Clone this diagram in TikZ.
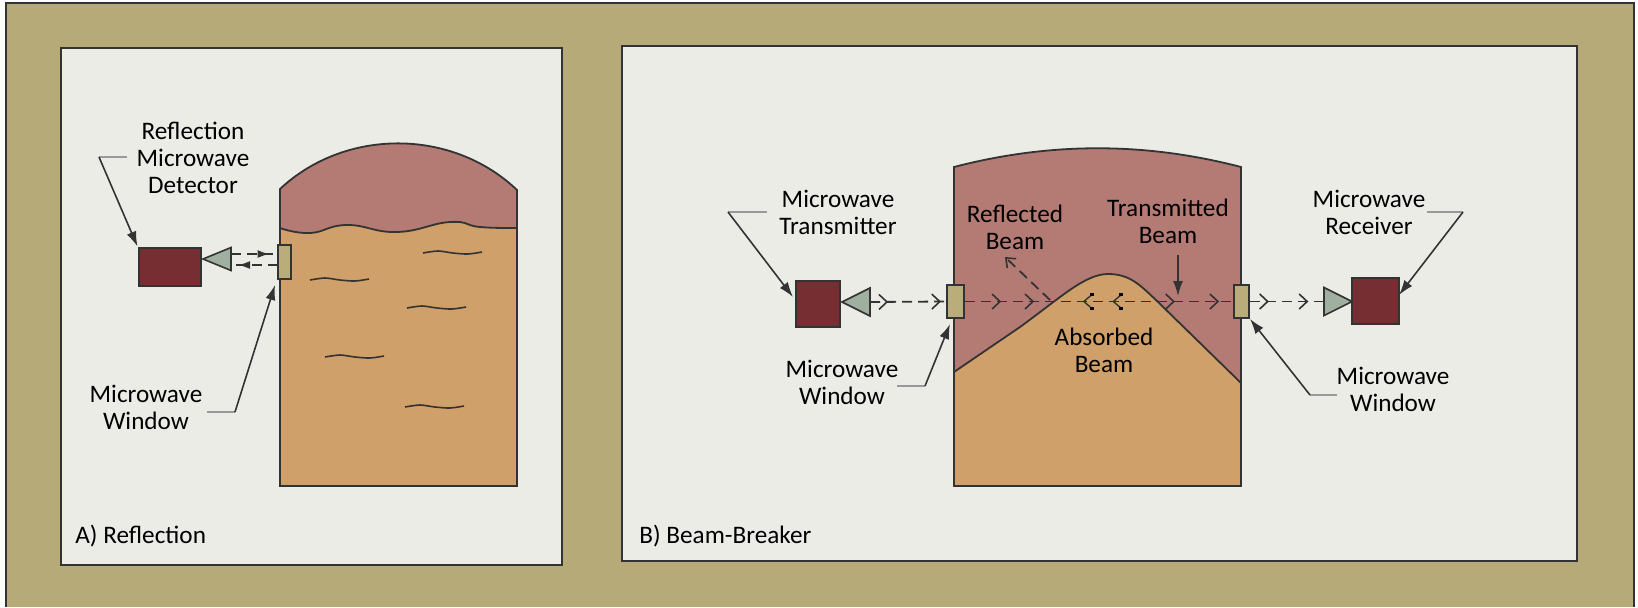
\documentclass[tikz,border=0pt]{standalone}
\usepackage{fontspec}
\setmainfont{Carlito}
\usepackage{tikz}
\usetikzlibrary{shapes.geometric, arrows.meta, decorations.markings}

\definecolor{frameolive}{HTML}{B5AA78}
\definecolor{panelgrey}{HTML}{EBECE6}
\definecolor{gaspink}{HTML}{B47A74}
\definecolor{liquidtan}{HTML}{CFA06A}
\definecolor{boxred}{HTML}{762E32}
\definecolor{conegreen}{HTML}{9FB0A0}
\definecolor{windowtan}{HTML}{B9AE7A}
\definecolor{inkdark}{HTML}{333333}

\begin{document}
\begin{tikzpicture}[
      x=0.5pt,
      y=-0.5pt,
      panel/.style={
          draw=inkdark,
          line width=1pt,
          fill=panelgrey
        },
      tank/.style={
          draw=inkdark,
          line width=0.9pt
        },
      unit/.style={
          rectangle,
          draw=inkdark,
          line width=1pt,
          inner sep=0pt,
          fill=boxred
        },
      cone/.style={
          isosceles triangle,
          isosceles triangle stretches,
          draw=inkdark,
          line width=0.8pt,
          inner sep=0pt,
          outer sep=0pt,
          fill=conegreen,
          minimum height=14pt,
          minimum width=14pt
        },
      port/.style={
          rectangle,
          draw=inkdark,
          line width=1pt,
          inner sep=0pt,
          minimum width=8.5pt,
          minimum height=16.5pt,
          fill=windowtan
        },
      label/.style={
          align=center,
          inner sep=0pt,
          text=black,
          font=\fontsize{12.6}{13.5}\selectfont
        },
      arrow/.style={
          -{Latex[length=7.5pt,width=5pt]},
          draw=inkdark,
          line width=0.8pt
        },
      tail/.style={
          draw=black!40,
          line width=1pt
        },
      beam/.style={
          draw=inkdark,
          line width=0.9pt,
          dash pattern=on 5pt off 3pt
        },
      chev/.style={
          postaction={
              decorate,
              decoration={
                  markings,
                  mark=at position #1 with {\arrow{Straight Barb[length=4pt,width=7.5pt,line width=0.8pt]}}
                }
            }
        },
      blob/.style={
          postaction={
              decorate,
              decoration={
                  markings,
                  mark=at position #1 with {\arrow{Latex[length=6pt,width=4pt]}}
                }
            }
        },
      absorb/.style={
          postaction={
              decorate,
              decoration={
                  markings,
                  mark=at position #1 with {
                      \draw[solid,line width=0.7pt] (2pt,-3.4pt) -- (-2pt,0pt) -- (2pt,3.4pt);
                      \fill (1pt,-4.4pt) rectangle (3pt,-2.6pt);
                      \fill (1pt,2.6pt) rectangle (3pt,4.4pt);
                    }
                }
            }
        }
    ]
    \useasboundingbox (0,0) rectangle (1638,607);

    % Frame and panels
    \fill[frameolive] (6,3) rectangle (1634,607);
    \draw[inkdark, line width=1.1pt] (6,607) -- (6,3) -- (1634,3) -- (1634,607);
    \draw[panel] (61,48) rectangle (562,565);
    \draw[panel] (622,46) rectangle (1577,561);

    % Tank A
    \draw[tank, fill=gaspink] (280,486) -- (280,189) .. controls (345,128) and (452,128) .. (517,190) -- (517,486) -- cycle;
    \draw[tank, fill=liquidtan] plot[smooth, tension=0.8] coordinates {(280,228) (310,233) (347,225) (397,232) (450,222) (480,227) (517,228)} -- (517,486) -- (280,486) -- cycle;
    \foreach \wx/\wy in {423/253, 310/280, 407/308, 325/357, 405/407} {
        \draw[inkdark, line width=0.8pt] plot[smooth] coordinates {(\wx,\wy) (\wx+15,\wy-2) (\wx+30,\wy) (\wx+45,\wy+1) (\wx+59,\wy-1)};
      }

    % Tank B
    \draw[tank, fill=gaspink] (954,486) -- (954,167) .. controls (1050,142) and (1145,142) .. (1241,167) -- (1241,486) -- cycle;
    \draw[tank, fill=liquidtan] (954,372) -- (1020,327) .. controls (1060,298) and (1085,274) .. (1108,274) .. controls (1130,274) and (1140,285) .. (1157,301) -- (1241,383) -- (1241,486) -- (954,486) -- cycle;

    % Nodes
    \node[unit, minimum width=31pt, minimum height=19pt] (detector) at (169.5,266.5) {};
    \node[cone, anchor=apex, shape border rotate=180, minimum width=11.5pt] (detcone) at (203,259) {};
    \node[port, minimum width=6.5pt, minimum height=17pt] (detport) at (284.5,261.5) {};
    \node[unit, minimum width=22pt, minimum height=23pt] (transmitter) at (818,304) {};
    \node[cone, anchor=apex, shape border rotate=180] (txcone) at (842,302) {};
    \node[port] (leftport) at (955,301.5) {};
    \node[port, minimum width=7.5pt] (rightport) at (1241,301.5) {};
    \node[cone, anchor=apex] (rxcone) at (1352,301.5) {};
    \node[unit, minimum width=23.5pt, minimum height=23pt] (receiver) at (1375.5,301) {};

    % Labels
    \node[label] (detlabel) at (193,158) {Reflection\\Microwave\\Detector};
    \node[label] (detportlabel) at (146,407) {Microwave\\Window};
    \node[label, anchor=west] (alabel) at (75,536) {A) Reflection};
    \node[label] (txlabel) at (838,212.5) {Microwave\\Transmitter};
    \node[label] (reflabel) at (1015,227.5) {Reflected\\Beam};
    \node[label] (translabel) at (1168,221) {Transmitted\\Beam};
    \node[label] (rxlabel) at (1369,212.5) {Microwave\\Receiver};
    \node[label] (abslabel) at (1104,350) {Absorbed\\Beam};
    \node[label] (leftportlabel) at (842,382.5) {Microwave\\Window};
    \node[label] (rightportlabel) at (1393,389) {Microwave\\Window};
    \node[label, anchor=west] (blabel) at (639,536) {B) Beam-Breaker};

    % Coordinates
    \coordinate (detstart) at (127,157);
    \coordinate (detbend) at (99,157);
    \coordinate (dportstart) at (207,412);
    \coordinate (dportbend) at (235,412);
    \coordinate (dporttip) at (275,285);
    \coordinate (txstart) at (767,212);
    \coordinate (txbend) at (728,212);
    \coordinate (txtip) at (793,297);
    \coordinate (lportstart) at (897,386);
    \coordinate (lportbend) at (925,386);
    \coordinate (lporttip) at (950,324);
    \coordinate (rxstart) at (1427,212);
    \coordinate (rxbend) at (1463,212);
    \coordinate (rxtip) at (1399,295);
    \coordinate (rportstart) at (1337,395);
    \coordinate (rportbend) at (1310,395);
    \coordinate (rporttip) at (1250,319);
    \coordinate (splash) at (1050,300);
    \coordinate (splashtip) at (1005,257);
    \coordinate (transtart) at (1178,255);
    \coordinate (trantip) at (1178,296);
    \coordinate (upfrom) at (231,254);
    \coordinate (upto) at (278,254);
    \coordinate (downfrom) at (278,265);
    \coordinate (downto) at (231,265);

    % Arrows
    \draw[tail] (detstart) -- (detbend);
    \draw[arrow] (detbend) -- (detector.north west);
    \draw[tail] (dportstart) -- (dportbend);
    \draw[arrow] (dportbend) -- (dporttip);
    \draw[tail] (txstart) -- (txbend);
    \draw[arrow] (txbend) -- (txtip);
    \draw[tail] (lportstart) -- (lportbend);
    \draw[arrow] (lportbend) -- (lporttip);
    \draw[tail] (rxstart) -- (rxbend);
    \draw[arrow] (rxbend) -- (rxtip);
    \draw[tail] (rportstart) -- (rportbend);
    \draw[arrow] (rportbend) -- (rporttip);
    \draw[arrow] (transtart) -- (trantip);

    % Beams
    \draw[beam, blob=0.82] (upfrom) -- (upto);
    \draw[beam, blob=0.85] (downfrom) -- (downto);
    \draw[beam, -{Straight Barb[length=4pt,width=6.5pt,line width=0.8pt]}] (splash) -- (splashtip);
    \draw[beam, chev=0.24, chev=0.94] (txcone.east) -- (leftport.west);
    \draw[beam, chev=0.137, chev=0.26, absorb=0.46, absorb=0.57, chev=0.785, chev=0.95] (leftport.east) -- (rightport.west);
    \draw[beam, chev=0.26, chev=0.79] (rightport.east) -- (rxcone.west);

  \end{tikzpicture}
\end{document}
